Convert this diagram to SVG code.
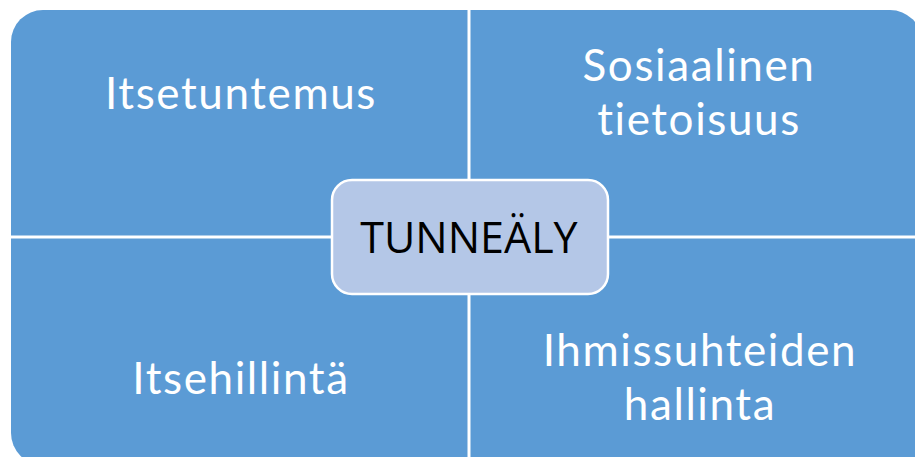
<svg xmlns="http://www.w3.org/2000/svg" width="915" height="457" viewBox="0 0 915 457">
<style>
.q{fill:#5B9BD5}
.lbl{font-family:Lato,"Open Sans","Liberation Sans",sans-serif;font-size:44px;letter-spacing:1.6px;font-variant-ligatures:none;font-feature-settings:"liga" 0;fill:#FFFFFF;text-anchor:middle}
.sep{stroke:#FFFFFF;stroke-width:3}
</style>
<rect width="915" height="457" fill="#FFFFFF"/>
<g id="quadrants">
<path id="q1" class="q" d="M11,237 V42 A32,32 0 0 1 43,10 H469 V237 Z"/>
<path id="q2" class="q" d="M469,10 H890 A32,32 0 0 1 922,42 V237 H469 Z"/>
<path id="q3" class="q" d="M11,237 H469 V465 H43 A32,32 0 0 1 11,433 Z"/>
<path id="q4" class="q" d="M469,237 H922 V465 H469 Z"/>
</g>
<g id="connectors">
<line class="sep" x1="469" y1="10" x2="469" y2="457"/>
<line class="sep" x1="11" y1="237" x2="915" y2="237"/>
</g>
<g id="n-itsetuntemus"><text class="lbl" x="241" y="109">Itsetuntemus</text></g>
<g id="n-sosiaalinen"><text class="lbl" x="699" y="81"><tspan x="699">Sosiaalinen</tspan><tspan x="699" dy="54">tietoisuus</tspan></text></g>
<g id="n-itsehillinta"><text class="lbl" x="241" y="394">Itsehillintä</text></g>
<g id="n-ihmissuhteiden"><text class="lbl" x="700" y="366"><tspan x="700">Ihmissuhteiden</tspan><tspan x="700" dy="54">hallinta</tspan></text></g>
<g id="n-tunnealy">
<rect x="332" y="180" width="276" height="114" rx="20" fill="#B4C7E7" stroke="#FFFFFF" stroke-width="2.5"/>
<text x="469" y="253" font-family="'Open Sans','Noto Sans','Liberation Sans',sans-serif" font-size="43" fill="#000000" text-anchor="middle">TUNNEÄLY</text>
</g>
</svg>
